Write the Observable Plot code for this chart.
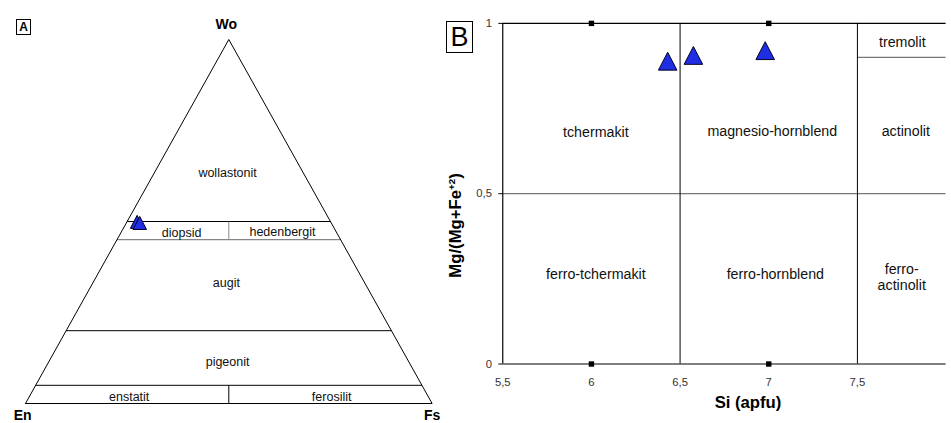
<!DOCTYPE html>
<html>
<head>
<meta charset="utf-8">
<script src="https://cdn.jsdelivr.net/npm/d3@7"></script>
<script src="https://cdn.jsdelivr.net/npm/@observablehq/plot@0.6"></script>
<style>
  body { margin: 0; background: #fff; }
  #wrap { position: relative; width: 951px; height: 423px; overflow: hidden; font-family: "Liberation Sans", Arial, sans-serif; background:#fff; }
  #panelA, #panelB { position: absolute; top: 0; }
  #panelA { left: 0; }
  #panelB { left: 444px; }
  .tag { position: absolute; border: 1px solid #000; box-sizing: border-box; display: flex; align-items: center; justify-content: center; background: #fff; color: #000; }
  #tagA { left: 16px; top: 19px; width: 15px; height: 16px; font-size: 12px; font-weight: bold; }
  #tagB { left: 446px; top: 21px; width: 27px; height: 32px; font-size: 27px; }
  #panelB [aria-label="x-axis tick label"] text, #panelB [aria-label="y-axis tick label"] text { fill: #333; }
</style>
</head>
<body>
<div id="wrap">
  <div id="panelA"></div>
  <div id="panelB"></div>
  <div class="tag" id="tagA">A</div>
  <div class="tag" id="tagB">B</div>
</div>
<script>
// ---------- Panel A data (pyroxene quadrilateral, percentages) ----------
const endMembers = ["En", "Wo", "Fs"];
const woBoundaries = [50, 45, 20, 5];
const pyroxeneWo = [49.9, 49.6];
const pyroxeneFs = [2.5, 3.3];
const pyroxeneEn = [47.6, 47.1];
const fieldNamesA = ["wollastonit", "diopsid", "hedenbergit", "augit", "pigeonit", "enstatit", "ferosilit"];

// ---------- Panel B data (amphibole classification) ----------
const siTicks = [5.5, 6, 6.5, 7, 7.5];
const mgTicks = [0, 0.5, 1];
const siBoundaries = [6.5, 7.5];
const amphiboleSi = [6.43, 6.575, 6.98];
const amphiboleMg = [0.889, 0.906, 0.92];
const cornerSi = [6, 7, 6, 7];
const cornerMg = [1, 1, 0, 0];
const fieldNamesB = ["tremolit", "tchermakit", "magnesio-hornblend", "actinolit", "ferro-tchermakit", "ferro-hornblend", "ferro-\nactinolit"];

const FONT = '"Liberation Sans", Arial, sans-serif';
const BLUE = "#1f2de3";

// triangle marker symbol (Excel-like, roughly equilateral, centred on box)
const excelTriangle = {
  draw(context, size) {
    const r = Math.sqrt(size / Math.PI);
    const a = r * 1.35, b = r * 1.3;
    context.moveTo(0, -b);
    context.lineTo(a, b);
    context.lineTo(-a, b);
    context.closePath();
  }
};

// ternary projection: x = Fs + Wo/2, y = Wo  (0..1)
const tx = (wo, fs) => (fs + wo / 2) / 100;
const ty = (wo) => wo / 100;

const vertices = [
  {name: "En", en: 100, wo: 0, fs: 0},
  {name: "Wo", en: 0, wo: 100, fs: 0},
  {name: "Fs", en: 0, wo: 0, fs: 100}
];
const outline = [...vertices, vertices[0]];

const dividers = [
  {wo0: 45, wo1: 50, color: "#8a8a8a"},
  {wo0: 0, wo1: 5, color: "#000"}
];

const pyroxenes = pyroxeneWo.map((wo, i) => ({wo, fs: pyroxeneFs[i], en: pyroxeneEn[i]}));

// label anchor points in projected ternary frame
const labelPosA = [[0.497, 0.632], [0.384, 0.468], [0.632, 0.472], [0.494, 0.332], [0.497, 0.113], [0.255, 0.019], [0.753, 0.017]];
const labelsA = fieldNamesA.map((t, i) => ({text: t, x: labelPosA[i][0], y: labelPosA[i][1]}));
const cornerPos = {Wo: [0.494, 1.04], En: [-0.007, -0.034], Fs: [1.0, -0.034]};
const cornerLabels = endMembers.map(n => ({text: n, x: cornerPos[n][0], y: cornerPos[n][1]}));

const plotA = Plot.plot({
  width: 444, height: 423,
  marginLeft: 25, marginRight: 12.4, marginTop: 39, marginBottom: 20,
  x: {domain: [0, 1], axis: null},
  y: {domain: [0, 1], axis: null},
  style: {fontFamily: FONT, fontSize: "12.5px", background: "transparent"},
  marks: [
    Plot.link(woBoundaries, {
      x1: w => tx(w, 0), y1: w => ty(w),
      x2: w => tx(w, 100 - w), y2: w => ty(w),
      stroke: w => w === 45 ? "#6a6a6a" : "#000", strokeWidth: 1
    }),
    Plot.link(dividers, {
      x1: d => tx(d.wo0, (100 - d.wo0) / 2), y1: d => ty(d.wo0),
      x2: d => tx(d.wo1, (100 - d.wo1) / 2), y2: d => ty(d.wo1),
      stroke: d => d.color, strokeWidth: 1
    }),
    Plot.line(outline, {x: d => tx(d.wo, d.fs), y: d => ty(d.wo), stroke: "#000", strokeWidth: 1}),
    Plot.text(labelsA, {x: "x", y: "y", text: "text", fontSize: 12.5, fill: "#111"}),
    Plot.text(cornerLabels, {x: "x", y: "y", text: "text", fontSize: 14, fontWeight: "bold", fill: "#000"}),
    Plot.dot(pyroxenes, {x: d => tx(d.wo, d.fs), y: d => ty(d.wo), symbol: excelTriangle, r: 5, fill: BLUE, stroke: "#000020", strokeWidth: 1})
  ]
});
document.getElementById("panelA").appendChild(plotA);

// ---------- Panel B ----------
const commaFmt = d => String(d).replace(".", ",");
const amphiboles = amphiboleSi.map((si, i) => ({si, mg: amphiboleMg[i]}));
const corners = cornerSi.map((si, i) => ({si, mg: cornerMg[i]}));
const labelPosB = [[7.753, 0.947], [6.025, 0.681], [7.02, 0.684], [7.773, 0.685], [6.025, 0.264], [7.037, 0.266], [7.75, 0.255]];
const labelsB = fieldNamesB.map((t, i) => ({text: t, x: labelPosB[i][0], y: labelPosB[i][1]}));
const Y_LABEL = "Mg/(Mg+Fe+2)";

const plotB = Plot.plot({
  width: 516, height: 423,
  marginLeft: 59.3, marginRight: 5.5, marginTop: 23.3, marginBottom: 53,
  x: {domain: [5.5, 8]},
  y: {domain: [0, 1]},
  style: {fontFamily: FONT, fontSize: "11.5px", background: "transparent"},
  marks: [
    Plot.ruleY([0.5], {stroke: "#777", strokeWidth: 1.3}),
    Plot.ruleY([0.9], {x1: 7.5, x2: 8, stroke: "#777", strokeWidth: 1.3}),
    Plot.ruleX(siBoundaries, {y1: 0, y2: 1, stroke: "#000", strokeWidth: 1}),
    Plot.ruleY([0, 1], {stroke: "#000", strokeWidth: 1.2}),
    Plot.ruleX([5.5], {y1: 0, y2: 1, stroke: "#000", strokeWidth: 1.2}),
    Plot.axisX({ticks: siTicks, tickFormat: commaFmt, tickSize: 0, tickPadding: 14, label: null, fontSize: 11.5}),
    Plot.axisY({ticks: mgTicks, tickFormat: commaFmt, tickSize: 4, tickPadding: 7, label: null, fontSize: 11.5}),
    Plot.dot(corners, {x: "si", y: "mg", symbol: "square", r: 3.1, fill: "#000"}),
    Plot.text(labelsB, {x: "x", y: "y", text: "text", fontSize: 14.5, lineHeight: 1.12, fill: "#111"}),
    Plot.dot(amphiboles, {x: "si", y: "mg", symbol: excelTriangle, r: 7, fill: BLUE, stroke: "#000020", strokeWidth: 1}),
    Plot.text(["Si (apfu)"], {frameAnchor: "bottom", textAnchor: "middle", lineAnchor: "middle", dx: 24, dy: 39, fontSize: 17, fontWeight: "bold", fill: "#000"}),
    Plot.text([Y_LABEL], {frameAnchor: "left", textAnchor: "middle", lineAnchor: "middle", rotate: -90, dx: -48.3, dy: 32.3, fontSize: 17, fontWeight: "bold", fill: "#000"})
  ]
});
document.getElementById("panelB").appendChild(plotB);

// superscript in y label
d3.select(plotB).selectAll("text").each(function () {
  if (this.textContent === Y_LABEL) {
    const yl = d3.select(this);
    yl.text(null);
    yl.append("tspan").text("Mg/(Mg+Fe");
    yl.append("tspan").attr("dy", "-6").attr("font-size", "10px").text("+2");
    yl.append("tspan").attr("dy", "6").text(")");
  }
});
</script>
</body>
</html>
